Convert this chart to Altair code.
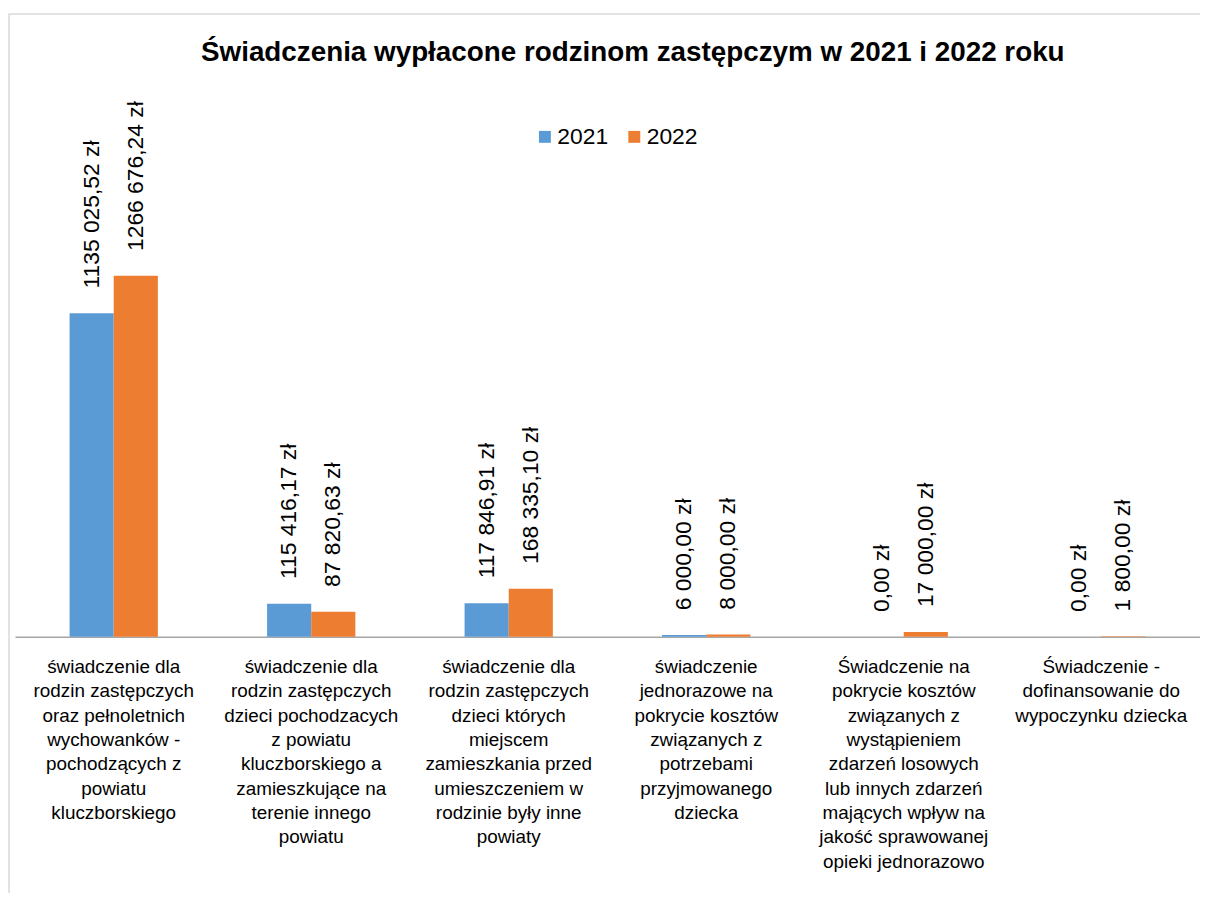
import altair as alt
import pandas as pd

title_text = ["Świadczenia wypłacone rodzinom zastępczym w 2021 i 2022 roku"]
categories = [
    "świadczenie dla|rodzin zastępczych|oraz pełnoletnich|wychowanków -|pochodzących z|powiatu|kluczborskiego",
    "świadczenie dla|rodzin zastępczych|dzieci pochodzacych|z powiatu|kluczborskiego a|zamieszkujące na|terenie innego|powiatu",
    "świadczenie dla|rodzin zastępczych|dzieci których|miejscem|zamieszkania przed|umieszczeniem w|rodzinie były inne|powiaty",
    "świadczenie|jednorazowe na|pokrycie kosztów|związanych z|potrzebami|przyjmowanego|dziecka",
    "Świadczenie na|pokrycie kosztów|związanych z|wystąpieniem|zdarzeń losowych|lub innych zdarzeń|mających wpływ na|jakość sprawowanej|opieki jednorazowo",
    "Świadczenie -|dofinansowanie do|wypoczynku dziecka",
]
years = ["2021", "2022"]
values_2021 = [1135025.52, 115416.17, 117846.91, 6000.00, 0.00, 0.00]
values_2022 = [1266676.24, 87820.63, 168335.10, 8000.00, 17000.00, 1800.00]
labels_2021 = ["1135 025,52 zł", "115 416,17 zł", "117 846,91 zł", "6 000,00 zł", "0,00 zł", "0,00 zł"]
labels_2022 = ["1266 676,24 zł", "87 820,63 zł", "168 335,10 zł", "8 000,00 zł", "17 000,00 zł", "1 800,00 zł"]
colors = ["#5B9BD5", "#ED7D31"]

rows = []
for i, c in enumerate(categories):
    rows.append({"category": c, "year": "2021", "value": values_2021[i], "label": labels_2021[i]})
    rows.append({"category": c, "year": "2022", "value": values_2022[i], "label": labels_2022[i]})
df = pd.DataFrame(rows)

FONT = "Liberation Sans"

base = alt.Chart(df).encode(
    x=alt.X(
        "category:N",
        sort=categories,
        scale=alt.Scale(paddingInner=0.553, paddingOuter=0.2765),
        axis=alt.Axis(
            title=None,
            labelAngle=0,
            labelExpr="split(datum.label, '|')",
            ticks=False,
            domainColor="#A6A6A6",
            domainWidth=1.5,
            labelFontSize=19,
            labelLineHeight=24.5,
            labelPadding=21,
            labelLimit=300,
            labelOverlap=False,
            labelFont=FONT,
            labelColor="#000000",
            labelBaseline="top",
        ),
    ),
    xOffset=alt.XOffset("year:N", sort=years, scale=alt.Scale(paddingInner=0, paddingOuter=0)),
)

bars = base.mark_bar().encode(
    y=alt.Y("value:Q", scale=alt.Scale(domain=[0, 1900000], nice=False, zero=True), axis=None),
    color=alt.Color(
        "year:N",
        sort=years,
        scale=alt.Scale(domain=years, range=colors),
        legend=alt.Legend(
            title=None,
            orient="none",
            legendX=522,
            legendY=30,
            direction="horizontal",
            symbolType="square",
            symbolSize=144,
            symbolStrokeWidth=0,
            labelFontSize=23,
            labelFont=FONT,
            labelColor="#000000",
            labelOffset=1,
            columnPadding=14,
            padding=0,
        ),
    ),
)

text = base.mark_text(
    angle=270, align="left", baseline="middle", dx=25, fontSize=23, font=FONT, color="#000000"
).encode(y=alt.Y("value:Q"), text="label:N")

frame = alt.Chart(pd.DataFrame({"a": [0]})).mark_rect(
    fillOpacity=0, stroke="#D9D9D9", strokeWidth=1.5
).encode(x=alt.value(-6), x2=alt.value(1220), y=alt.value(-82), y2=alt.value(900))

title = alt.Chart(pd.DataFrame({"t": title_text})).mark_text(
    fontSize=28, font=FONT, fontWeight="bold", color="#000000", align="center", baseline="alphabetic"
).encode(text="t:N", x=alt.value(622), y=alt.value(-35))

chart = alt.layer(frame, bars, text, title).properties(
    width=1193,
    height=545,
    autosize=alt.AutoSizeParams(type="none"),
    padding={"left": 7, "top": 85, "right": 0, "bottom": 255},
).configure_view(stroke=None)

chart.save("out.html", embed_options={"renderer": "svg", "actions": False})
